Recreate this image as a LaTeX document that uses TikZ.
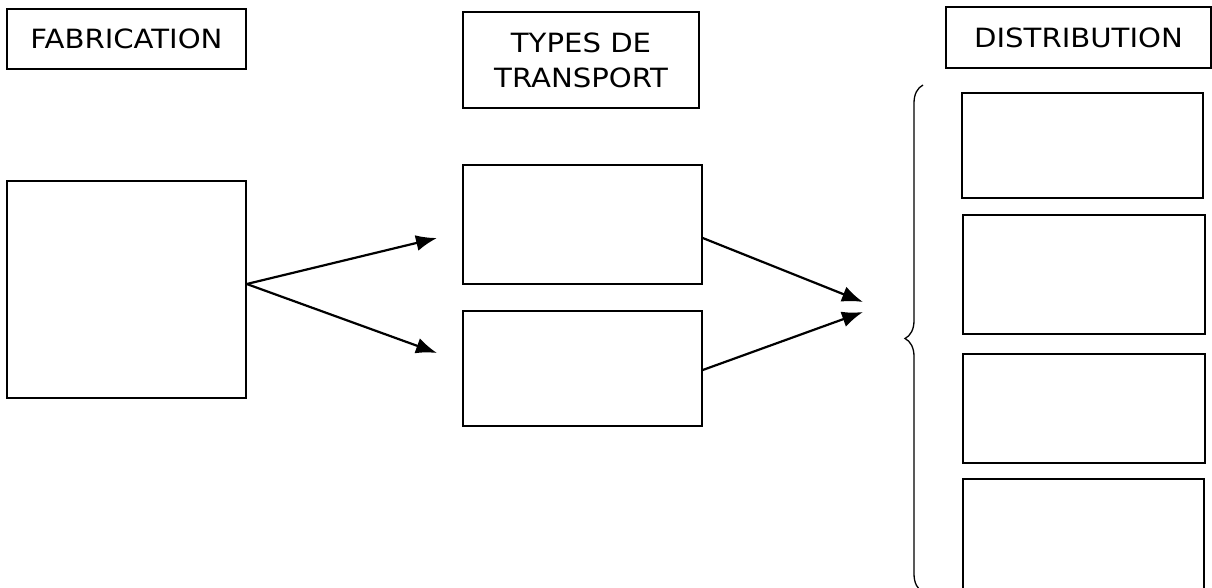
\documentclass[tikz,border=0pt]{standalone}
\usepackage{fontspec}
\setmainfont{DejaVu Sans}[FakeStretch=1.1]
\usepackage{tikz}
\usetikzlibrary{arrows.meta,decorations.pathreplacing}

\tikzset{
  titlebox/.style={draw,line width=1.5pt,inner sep=0pt,align=center,
                   font=\fontsize{26.5}{35}\selectfont},
  emptybox/.style={draw,line width=1.5pt,inner sep=0pt},
  link/.style={line width=2.2pt,-{Latex[length=21pt,width=16pt]}}
}

\begin{document}
\begin{tikzpicture}[x=1pt,y=-1pt]
    \useasboundingbox (0,0) rectangle (1212,587);
    % headings
    \node [titlebox,minimum width=239pt,minimum height=60pt] (fabtitle)
          at (126.5,39) {FABRICATION};
    \node [titlebox,minimum width=236pt,minimum height=96pt] (trtitle)
          at (581,60) {TYPES DE\\TRANSPORT};
    \node [titlebox,minimum width=265pt,minimum height=61pt] (distitle)
          at (1078.5,37.5) {DISTRIBUTION};

    % boxes
    \node [emptybox,minimum width=239pt,minimum height=217pt] (fab) at (126.5,289.5) {};
    \node [emptybox,minimum width=239pt,minimum height=119pt] (tr1) at (582.5,224.5) {};
    \node [emptybox,minimum width=239pt,minimum height=115pt] (tr2) at (582.5,368.5) {};
    \node [emptybox,minimum width=241pt,minimum height=105pt] (dis1) at (1082.5,145.5) {};
    \node [emptybox,minimum width=242pt,minimum height=119pt] (dis2) at (1084,274.5) {};
    \node [emptybox,minimum width=242pt,minimum height=109pt] (dis3) at (1084,408.5) {};
    \node [emptybox,minimum width=241pt,minimum height=122pt] (dis4) at (1083.5,540) {};

    % arrows
    \coordinate (fabout) at ([yshift=5.5pt]fab.east);
    \coordinate (tr1in) at (437,238);
    \coordinate (tr2in) at (437,353);
    \coordinate (tr1out) at ([yshift=-13.5pt]tr1.east);
    \coordinate (tr2out) at ([yshift=-1.5pt]tr2.east);
    \coordinate (disin1) at (863,302);
    \coordinate (disin2) at (863,312);
    \draw [link] (fabout) -- (tr1in);
    \draw [link] (fabout) -- (tr2in);
    \draw [link] (tr1out) -- (disin1);
    \draw [link] (tr2out) -- (disin2);

    % brace
    \draw [line width=1.3pt,decorate,decoration={brace,amplitude=18pt}]
          (923,592) -- (923,85);
\end{tikzpicture}
\end{document}
